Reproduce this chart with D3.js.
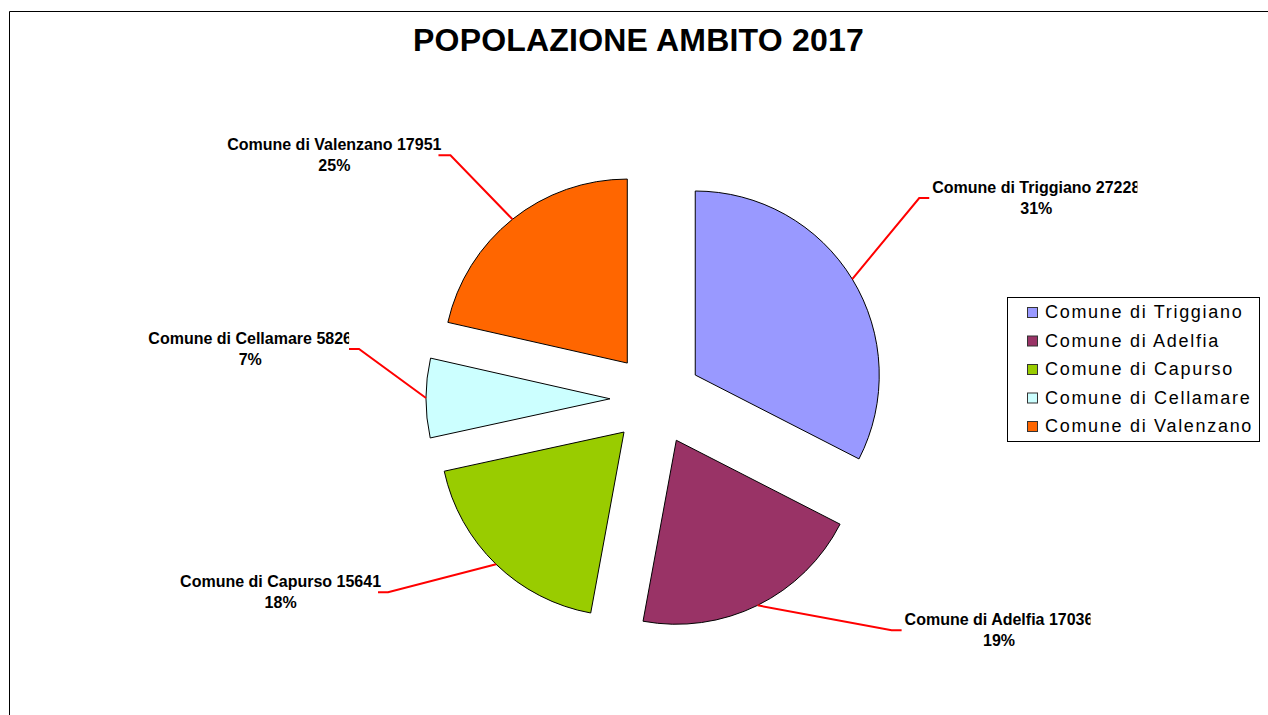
<!DOCTYPE html>
<html>
<head>
<meta charset="utf-8">
<script src="https://cdn.jsdelivr.net/npm/d3@7"></script>
<style>
  body { margin: 0; background: #fff; }
  svg { display: block; font-family: Arial, "Liberation Sans", sans-serif; }
</style>
</head>
<body>
<div id="chart-area"></div>
<script>
// Dati
const comuni = ["Comune di Triggiano", "Comune di Adelfia", "Comune di Capurso", "Comune di Cellamare", "Comune di Valenzano"];
const popolazione = [27228, 17036, 15641, 5826, 17951];
const percentuali = ["31%", "19%", "18%", "7%", "25%"];
const titolo = "POPOLAZIONE AMBITO 2017";

// Colori (palette Excel)
const colori = ["#9999FF", "#993366", "#99CC00", "#CCFFFF", "#FF6600"];

// Posizione delle linee guida delle etichette (gomito rispetto al bordo della fetta)
const guide = [
  { dx: 67, dy: -81, tail: 10, clip: true },
  { dx: 134, dy: 25, tail: 10, clip: true },
  { dx: -108, dy: 28, tail: -10, clip: false },
  { dx: -67, dy: -49, tail: -10, clip: true },
  { dx: -62, dy: -64, tail: -12, clip: false }
];

const width = 1268, height = 715;
const cx = 656, cy = 399, radius = 184, explode = 46;

const svg = d3.select("#chart-area").append("svg")
    .attr("width", width)
    .attr("height", height);

const defs = svg.append("defs");

// Bordo del grafico
svg.append("path")
    .attr("d", `M9.5,${height} V11.5 H${width}`)
    .attr("fill", "none")
    .attr("stroke", "#000")
    .attr("stroke-width", 1);

// Titolo (tagliato a destra come nell'originale)
defs.append("clipPath").attr("id", "clipTitle")
  .append("rect").attr("x", 0).attr("y", 0).attr("width", 864).attr("height", 80);

svg.append("text")
    .attr("clip-path", "url(#clipTitle)")
    .attr("x", 413)
    .attr("y", 51)
    .attr("font-size", 32)
    .attr("font-weight", "bold")
    .attr("letter-spacing", 0.2)
    .attr("fill", "#000")
    .text(titolo);

const color = d3.scaleOrdinal(comuni, colori);

const pie = d3.pie().sort(null).value(d => d)
    .startAngle(0).endAngle(2 * Math.PI);
const arcs = pie(popolazione);

const arc = d3.arc().innerRadius(0).outerRadius(radius);

const g = svg.append("g").attr("transform", `translate(${cx},${cy})`);

const mid = d => (d.startAngle + d.endAngle) / 2;
const shift = d => [Math.sin(mid(d)) * explode, -Math.cos(mid(d)) * explode];

// Fette
g.selectAll("path.slice")
    .data(arcs)
    .join("path")
    .attr("class", "slice")
    .attr("transform", d => `translate(${shift(d)})`)
    .attr("fill", (d, i) => color(comuni[i]))
    .attr("stroke", "#000")
    .attr("stroke-width", 1)
    .attr("d", arc);

// Linee guida ed etichette
arcs.forEach((d, i) => {
  const [sx, sy] = shift(d);
  const ax = cx + sx + Math.sin(mid(d)) * radius;
  const ay = cy + sy - Math.cos(mid(d)) * radius;
  const gd = guide[i];
  const ex = ax + gd.dx, ey = ay + gd.dy;
  const tx = ex + gd.tail;

  svg.append("path")
      .attr("d", `M${ax},${ay} L${ex},${ey} L${tx},${ey}`)
      .attr("fill", "none")
      .attr("stroke", "#FF0000")
      .attr("stroke-width", 2);

  const right = gd.tail > 0;
  const lab = svg.append("g");
  const t1 = lab.append("text")
      .attr("x", tx + 3)
      .attr("y", ey - 5)
      .attr("text-anchor", right ? "start" : "end")
      .attr("font-size", 16)
      .attr("font-weight", "bold")
      .attr("fill", "#000")
      .text(`${comuni[i]} ${popolazione[i]}`);
  const bb = t1.node().getBBox();
  lab.append("text")
      .attr("x", bb.x + bb.width / 2)
      .attr("y", ey + 16)
      .attr("text-anchor", "middle")
      .attr("font-size", 16)
      .attr("font-weight", "bold")
      .attr("fill", "#000")
      .text(percentuali[i]);

  if (gd.clip) {
    const id = "clip" + i;
    defs.append("clipPath").attr("id", id)
      .append("rect")
        .attr("x", bb.x - 2)
        .attr("y", bb.y - 2)
        .attr("width", bb.width - 1)
        .attr("height", 60);
    lab.attr("clip-path", `url(#${id})`);
  }
});

// Legenda
const legend = svg.append("g").attr("transform", "translate(1007,297)");
legend.append("rect")
    .attr("x", 0.5).attr("y", 0.5)
    .attr("width", 252).attr("height", 144)
    .attr("fill", "#fff")
    .attr("stroke", "#000");

const items = legend.selectAll("g.item")
    .data(comuni)
    .join("g")
    .attr("class", "item")
    .attr("transform", (d, i) => `translate(0,${21 + i * 28.5})`);

items.append("rect")
    .attr("x", 20.5).attr("y", -10.5)
    .attr("width", 10).attr("height", 10)
    .attr("fill", d => color(d))
    .attr("stroke", "#333");

items.append("text")
    .attr("x", 38)
    .attr("y", 0)
    .attr("font-size", 18)
    .attr("letter-spacing", 1.7)
    .attr("fill", "#000")
    .text(d => d);
</script>
</body>
</html>
